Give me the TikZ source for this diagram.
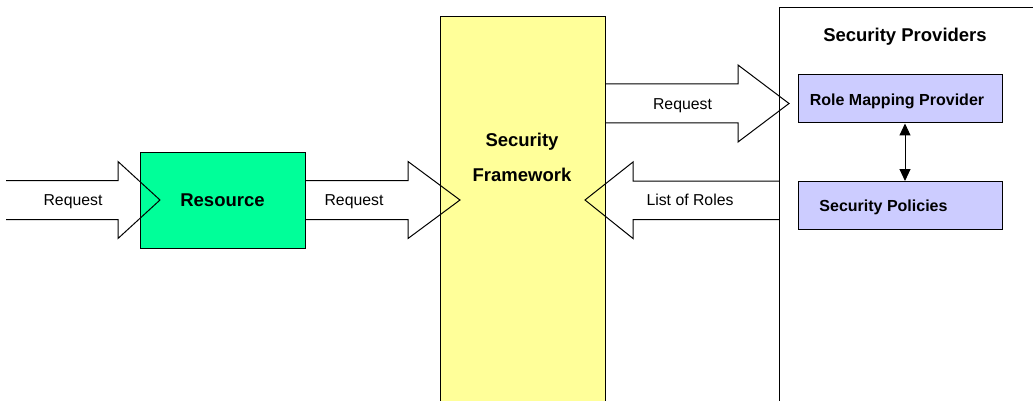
\documentclass[tikz,border=0pt]{standalone}
\usepackage{fontspec}
\setmainfont{Liberation Sans}
\usetikzlibrary{arrows.meta}
\definecolor{resgreen}{RGB}{0,255,153}
\definecolor{fwyellow}{RGB}{255,255,153}
\definecolor{provblue}{RGB}{204,204,255}
\tikzset{
  boxline/.style={draw=black, line width=1pt},
  resbox/.style={boxline, fill=resgreen, inner sep=0pt, text depth=0pt, font=\fontsize{18.5}{22}\selectfont\bfseries},
  fwbox/.style={boxline, fill=fwyellow, inner sep=0pt},
  provbox/.style={boxline, fill=white, inner sep=0pt},
  innerbox/.style={boxline, fill=provblue, inner sep=0pt, minimum width=204pt, minimum height=48pt},
  titletext/.style={inner sep=0pt, font=\fontsize{18.5}{35}\selectfont\bfseries, align=center},
  smallbold/.style={inner sep=0pt, text depth=0pt, font=\fontsize{16}{19}\selectfont\bfseries},
  arrowtext/.style={inner sep=0pt, text depth=0pt, font=\fontsize{15.8}{19}\selectfont},
  blockarrow/.style={draw=black, line width=1pt, line join=miter},
}
\begin{document}
\begin{tikzpicture}[x=1pt,y=-1pt]
\useasboundingbox (0,0) rectangle (1033,401);
% boxes
\node[resbox, minimum width=165pt, minimum height=96pt] (res) at (222.5,200) {Resource};
\node[fwbox, anchor=north west, minimum width=165pt, minimum height=400pt] (fw) at (440,16) {};
\node[titletext] (fwlabel) at (522,157.5) {Security\\Framework};
\node[provbox, anchor=north west, minimum width=280pt, minimum height=410pt] (prov) at (779,7) {};
\node[titletext, text depth=0pt] (provlabel) at (905,35) {Security Providers};
\node[innerbox] (role) at (900,99) {};
\node[smallbold] (rolelabel) at (897,100) {Role Mapping Provider};
\node[innerbox] (pol) at (900,205.5) {};
\node[smallbold] (pollabel) at (883.5,206) {Security Policies};
\draw[line width=1pt, {Triangle[length=12pt,width=11pt]}-{Triangle[length=12pt,width=11pt]}] (role.south -| 905,0) -- (pol.north -| 905,0);
% block arrows
\coordinate (a1s) at (6,200);
\coordinate (a1e) at (160,200);
\draw[blockarrow] (a1s |- 0,180.5) -- (118,180.5) -- (118,161.5) -- (a1e) -- (118,238.5) -- (118,219.5) -- (a1s |- 0,219.5);
\node[arrowtext] (a1t) at (73,200) {Request};
\draw[blockarrow] (res.east |- 0,180.5) -- (408,180.5) -- (408,161.5) -- (460,200) -- (408,238.5) -- (408,219.5) -- (res.east |- 0,219.5);
\node[arrowtext] (a2t) at (354,200) {Request};
\draw[blockarrow] (fw.east |- 0,84) -- (738,84) -- (738,65) -- (789,103.5) -- (738,142) -- (738,123) -- (fw.east |- 0,123);
\node[arrowtext] (a3t) at (682.5,104) {Request};
\draw[blockarrow] (prov.west |- 0,181) -- (633,181) -- (633,162) -- (585,200) -- (633,238.5) -- (633,219.5) -- (prov.west |- 0,219.5);
\node[arrowtext] (a4t) at (690,200) {List of Roles};
\end{tikzpicture}
\end{document}
